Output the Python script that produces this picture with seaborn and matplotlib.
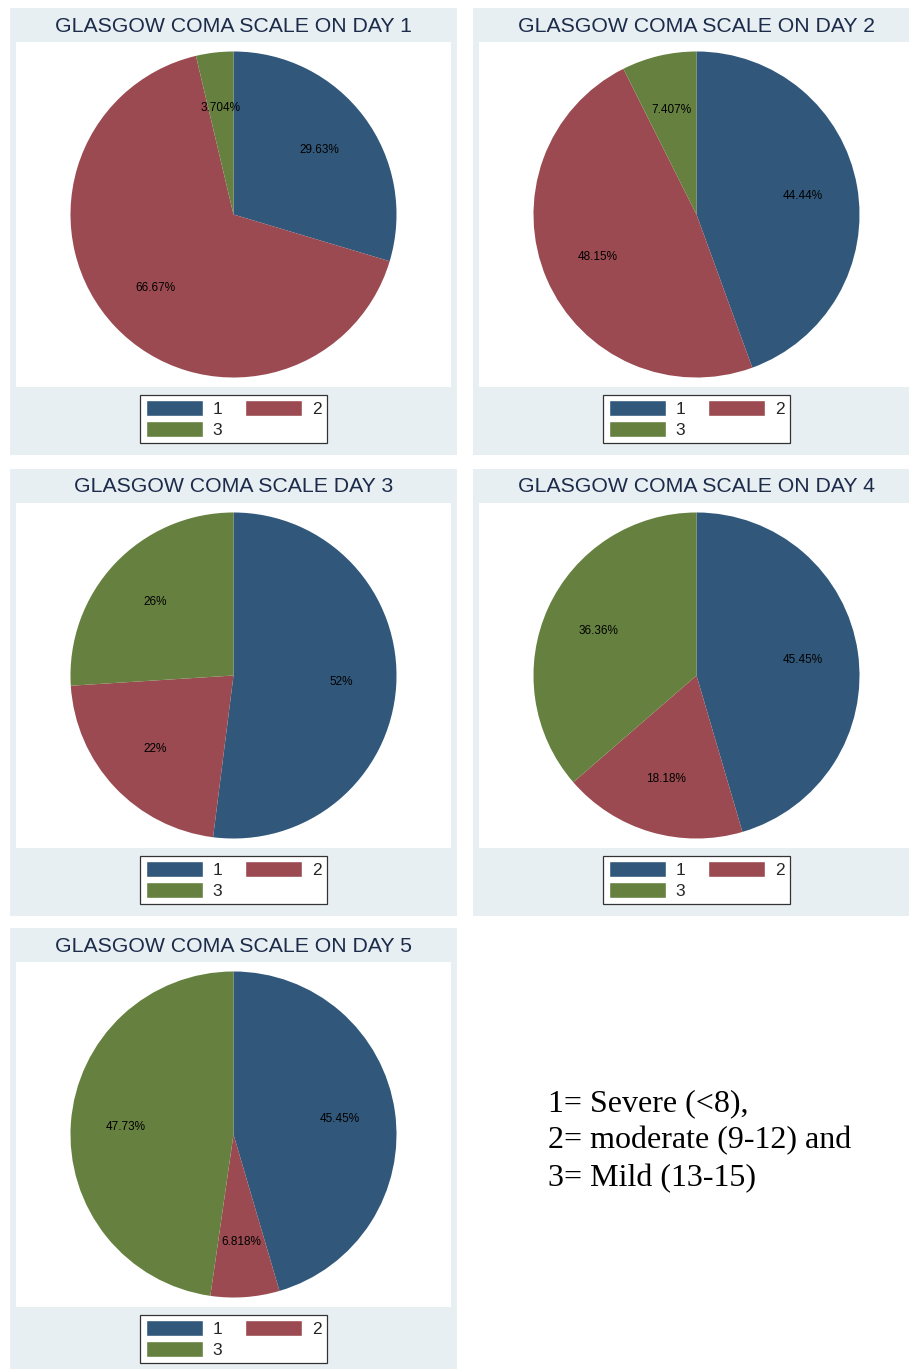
import matplotlib
matplotlib.use("Agg")
import matplotlib.pyplot as plt
from matplotlib.patches import Rectangle, Patch
import seaborn as sns

# %%
# data
titles = ["GLASGOW COMA SCALE ON DAY 1", "GLASGOW COMA SCALE ON DAY 2",
          "GLASGOW COMA SCALE DAY 3", "GLASGOW COMA SCALE ON DAY 4",
          "GLASGOW COMA SCALE ON DAY 5"]
categories = ["1", "2", "3"]
day1 = [29.63, 66.67, 3.704]
day2 = [44.44, 48.15, 7.407]
day3 = [52, 22, 26]
day4 = [45.45, 18.18, 36.36]
day5 = [45.45, 6.818, 47.73]
note_lines = ["1= Severe (<8),", "2= moderate (9-12) and", "3= Mild (13-15)"]

# %%
sns.set_theme(style="white")
plt.rcParams['font.family'] = ['Liberation Sans', 'DejaVu Sans']
colors = sns.color_palette(["#31587b", "#9a4a50", "#66813f"])
bg = "#e8eff2"

W, H = 909, 1369
fig = plt.figure(figsize=(W / 100, H / 100), dpi=100)
fig.patch.set_facecolor("white")


def fx(px):
    return px / W


def fy(py):
    return 1 - py / H


def rect(x, y, w, h, color):
    fig.patches.append(Rectangle((fx(x), fy(y + h)), w / W, h / H, transform=fig.transFigure,
                                 facecolor=color, edgecolor="none", zorder=-2))


panels = [(10, 8), (473, 8), (10, 469), (473, 469), (10, 928)]
pw, ph = 447, 447

for (left, top), title, vals in zip(panels, titles, [day1, day2, day3, day4, day5]):
    rect(left, top, pw, ph, bg)
    rect(left + 6, top + 34, pw - 12, 345, "white")
    cx = left + pw / 2
    fig.text(fx(cx), fy(top + 18), title, ha="center", va="center",
             fontsize=15.3, color="#1c2b4a")

    side = 345
    ax = fig.add_axes([fx(cx - side / 2), fy(top + 206.5 + side / 2), side / W, side / H])
    ax.pie(vals, colors=colors, startangle=90, counterclock=False, radius=0.945,
           autopct=lambda p: f"{p:.4g}%", pctdistance=0.66,
           wedgeprops=dict(linewidth=0),
           textprops=dict(fontsize=8.5, color="black"))
    ax.set_xlim(-1, 1)
    ax.set_ylim(-1, 1)
    ax.set_aspect("equal")
    ax.axis("off")

    handles = [Patch(facecolor=colors[0]), Patch(facecolor=colors[2]), Patch(facecolor=colors[1])]
    leg = ax.legend(handles, [categories[0], categories[2], categories[1]], ncol=2,
                    loc="center", bbox_to_anchor=(fx(cx), fy(top + 411)),
                    bbox_transform=fig.transFigure, fontsize=12.5,
                    frameon=True, fancybox=False, framealpha=1, edgecolor="#333333",
                    handlelength=3.3, handleheight=1.05, handletextpad=0.55,
                    columnspacing=1.3, labelspacing=0.2, borderpad=0.3,
                    borderaxespad=0)
    leg.get_frame().set_linewidth(0.9)

# baseline of a multi-line text anchors the last line
fig.text(fx(548), fy(1186), "\n".join(note_lines), ha="left", va="baseline",
         fontsize=23, family=["Liberation Serif", "DejaVu Serif"], color="black",
         linespacing=1.37)

fig.savefig("out.png", dpi=100)
